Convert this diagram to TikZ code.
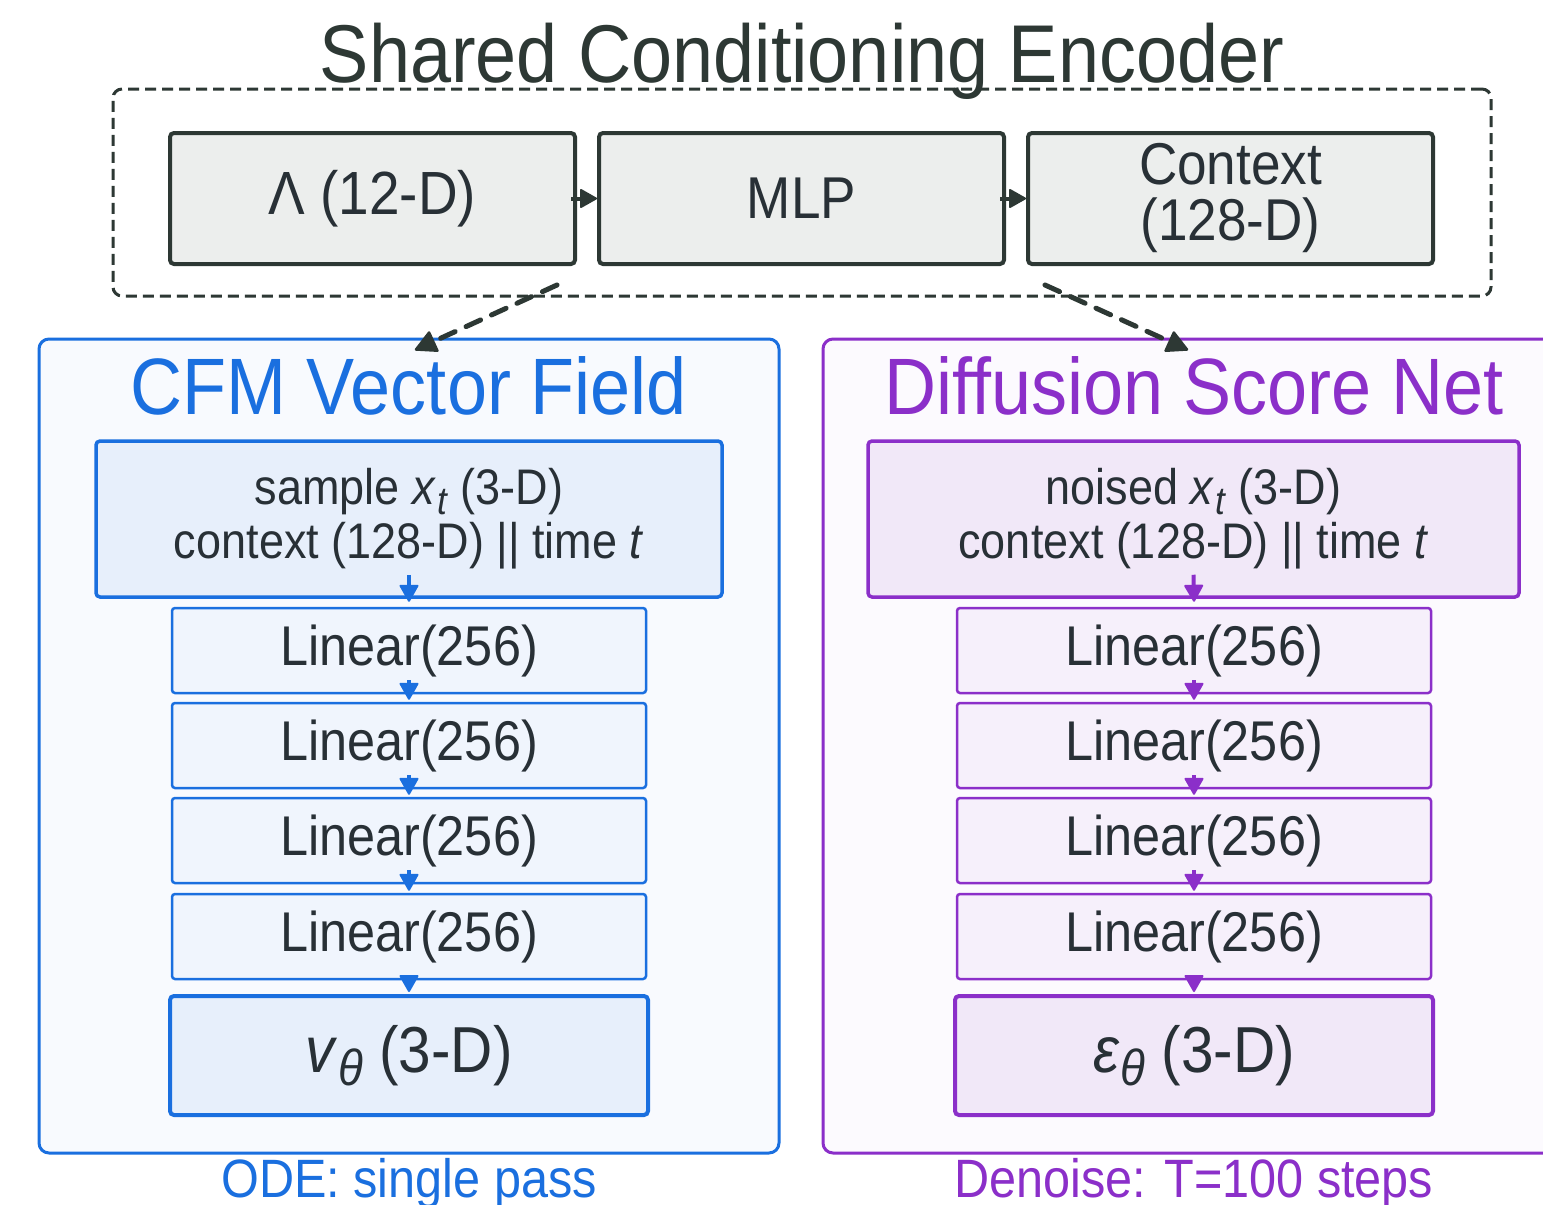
\documentclass[tikz,border=0pt]{standalone}
\usepackage{fontspec}
\setmainfont{Liberation Sans}[FakeStretch=0.9]
\usetikzlibrary{calc}
\definecolor{dk}{RGB}{45,56,52}
\definecolor{txt}{RGB}{40,48,54}
\definecolor{encfill}{RGB}{236,238,237}
\definecolor{bl}{RGB}{26,111,223}
\definecolor{blpanel}{RGB}{248,250,254}
\definecolor{blin}{RGB}{231,239,251}
\definecolor{bllin}{RGB}{240,245,253}
\definecolor{pu}{RGB}{139,47,201}
\definecolor{pupanel}{RGB}{252,250,254}
\definecolor{puin}{RGB}{241,232,248}
\definecolor{pulin}{RGB}{246,240,251}
\newcommand\mysubs[2]{\textit{#1}\kern1pt\raisebox{-0.2em}{\scalebox{0.78}{\textit{#2}}}}
\newcommand\fs[2]{\fontsize{#1}{#2}\selectfont}
% arrow from start point #2 to tip #3 in colour #1, head length #4, half width #5, line width #6
\newcommand\myarrow[6]{%
  \coordinate (aS) at #2; \coordinate (aT) at #3;
  \coordinate (aB) at ($(aT)!#4!(aS)$);
  \draw[draw=#1,line width=#6] (aS) -- (aB);
  \filldraw[draw=#1,fill=#1,line width=2pt,line join=round]
    (aT) -- ($(aB)!#5!90:(aT)$) -- ($(aB)!#5!-90:(aT)$) -- cycle;}
\begin{document}
\begin{tikzpicture}[x=1pt,y=-1pt,
  encnode/.style={draw=dk,fill=encfill,line width=4pt,rounded corners=4pt,minimum width=405pt,minimum height=131pt,inner sep=0pt,text=txt,align=center,font=\fs{59}{56}},
  panel/.style={line width=3pt,rounded corners=10pt,minimum width=740pt,minimum height=814pt,inner sep=0pt},
  inbox/.style={line width=3.5pt,rounded corners=4pt,minimum height=156pt,inner sep=0pt,text=txt,align=center,font=\fs{50}{54}},
  linbox/.style={line width=2.5pt,rounded corners=3pt,minimum width=474pt,minimum height=85pt,inner sep=0pt,text=txt,font=\fs{56}{60}},
  outbox/.style={line width=4pt,rounded corners=4pt,minimum width=478pt,minimum height=119pt,inner sep=0pt,text=txt,font=\fs{65}{66}},
  ptitle/.style={anchor=base,inner sep=0pt,font=\fs{80}{84}},
  caption/.style={anchor=base,inner sep=0pt,font=\fs{54}{56}},
  dashline/.style={dk,line width=5pt,line cap=round,dash pattern=on 16pt off 12pt},
  dashhead/.style={draw=dk,fill=dk,line width=2.5pt,line join=round}
]
\useasboundingbox (0,0) rectangle (1543,1205);
\clip (0,0) rectangle (1543,1205);
\fill[white] (0,0) rectangle (1543,1205);

% encoder
\node[anchor=base,inner sep=0pt,text=dk,font=\fs{82}{86}] (title) at (802,82) {Shared Conditioning Encoder};
\node[draw=dk,line width=3pt,dash pattern=on 11pt off 6pt,rounded corners=9pt,minimum width=1378pt,minimum height=207pt,inner sep=0pt] (encbox) at (802,192.5) {};
\node[encnode,font=\fs{61}{56}] (lam) at (372.5,198.5) {Λ (12-D)};
\node[encnode] (mlp) at (801.5,198.5) {MLP};
\node[encnode] (ctx) at (1230.5,198.5) {Context\\(128-D)};
\myarrow{dk}{([xshift=-6pt]lam.east)}{([xshift=-1pt]mlp.west)}{15pt}{8.5pt}{4pt}
\myarrow{dk}{([xshift=-6pt]mlp.east)}{([xshift=-1pt]ctx.west)}{15pt}{8.5pt}{4pt}

% panels
\node[panel,draw=bl,fill=blpanel] (cfm) at (409,746) {};
\node[panel,draw=pu,fill=pupanel] (dsn) at (1193,746) {};
\node[ptitle,text=bl] (cfmt) at (409,414) {CFM Vector Field};
\node[ptitle,text=pu] (dsnt) at (1194,414) {Diffusion Score Net};

% CFM column
\node[inbox,draw=bl,fill=blin,minimum width=626pt] (cin) at (409,519) {sample \mysubs{x}{t} (3-D)\\context (128-D) || time \textit{t}};
\node[linbox,draw=bl,fill=bllin] (cl1) at (409,650.5) {Linear(256)};
\node[linbox,draw=bl,fill=bllin] (cl2) at (409,745.5) {Linear(256)};
\node[linbox,draw=bl,fill=bllin] (cl3) at (409,840.5) {Linear(256)};
\node[linbox,draw=bl,fill=bllin] (cl4) at (409,936.5) {Linear(256)};
\node[outbox,draw=bl,fill=blin] (cout) at (409,1055.5) {\mysubs{v}{θ} (3-D)};
\node[caption,text=bl] (ccap) at (409,1197) {ODE: single pass};

% Diffusion column
\node[inbox,draw=pu,fill=puin,minimum width=651pt] (din) at (1193.5,519) {noised \mysubs{x}{t} (3-D)\\context (128-D) || time \textit{t}};
\node[linbox,draw=pu,fill=pulin] (dl1) at (1194,650.5) {Linear(256)};
\node[linbox,draw=pu,fill=pulin] (dl2) at (1194,745.5) {Linear(256)};
\node[linbox,draw=pu,fill=pulin] (dl3) at (1194,840.5) {Linear(256)};
\node[linbox,draw=pu,fill=pulin] (dl4) at (1194,936.5) {Linear(256)};
\node[outbox,draw=pu,fill=puin] (dout) at (1194,1055.5) {\mysubs{ε}{θ} (3-D)};
\node[caption,text=pu] (dcap) at (1194,1197) {Denoise: T=100 steps};

% flow arrows
\foreach \p/\c in {c/bl,d/pu}{
  \myarrow{\c}{([yshift=24pt]\p in.south)}{([yshift=6pt]\p l1.north)}{15pt}{8.5pt}{4pt}
  \myarrow{\c}{([yshift=14pt]\p l1.south)}{([yshift=3pt]\p l2.north)}{15pt}{8.5pt}{4pt}
  \myarrow{\c}{([yshift=14pt]\p l2.south)}{([yshift=3pt]\p l3.north)}{15pt}{8.5pt}{4pt}
  \myarrow{\c}{([yshift=14pt]\p l3.south)}{([yshift=3pt]\p l4.north)}{15pt}{8.5pt}{4pt}
  \myarrow{\c}{([yshift=4pt]\p l4.south)}{([yshift=3pt]\p out.north)}{15pt}{8.5pt}{4pt}
}

% dashed connectors
\coordinate (s1) at ([xshift=-20pt,yshift=-19pt]lam.south east);
\coordinate (t1) at ([xshift=7pt,yshift=-12pt]cfm.north);
\coordinate (b1) at ($(t1)!19pt!(s1)$);
\draw[dashline] (s1) -- (b1);
\filldraw[dashhead] (t1) -- ($(b1)!10pt!90:(t1)$) -- ($(b1)!10pt!-90:(t1)$) -- cycle;
\coordinate (s2) at ([xshift=19pt,yshift=-19pt]ctx.south west);
\coordinate (t2) at ([xshift=-6pt,yshift=-12pt]dsn.north);
\coordinate (b2) at ($(t2)!19pt!(s2)$);
\draw[dashline] (s2) -- (b2);
\filldraw[dashhead] (t2) -- ($(b2)!10pt!90:(t2)$) -- ($(b2)!10pt!-90:(t2)$) -- cycle;
\end{tikzpicture}
\end{document}
